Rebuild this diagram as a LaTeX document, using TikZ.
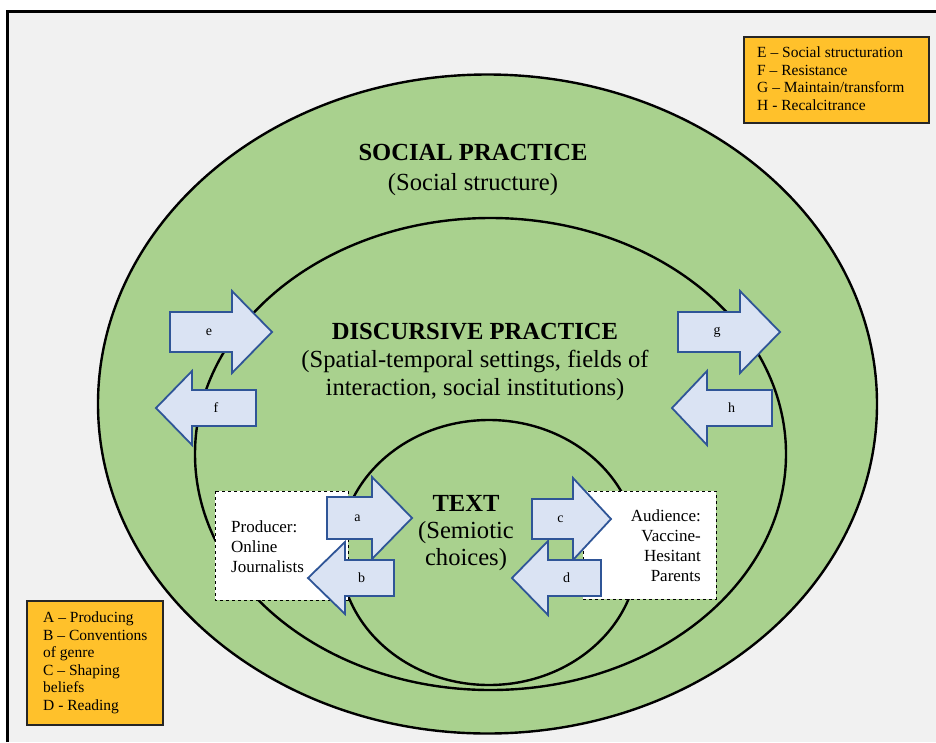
\documentclass[tikz,border=0pt]{standalone}
\usepackage{fontspec}
\setmainfont{Liberation Serif}
\definecolor{bggray}{HTML}{F1F1F1}
\definecolor{ringgreen}{HTML}{A9D18E}
\definecolor{arrfill}{HTML}{DAE3F3}
\definecolor{arrline}{HTML}{2F5597}
\definecolor{legfill}{HTML}{FFC12B}
\newcommand\RArrowShape[8]{%
  \draw[blockarr] (#1,{#4-#5}) -- (#2,{#4-#5}) -- (#2,{#4-#6}) -- (#3,#4) -- (#2,{#4+#6}) -- (#2,{#4+#5}) -- (#1,{#4+#5}) -- cycle;
  \node[arrlabel] (#8) at ({(#1+#2)/2+8},#4) {#7};}
\newcommand\LArrowShape[8]{%
  \draw[blockarr] (#1,#4) -- (#2,{#4-#6}) -- (#2,{#4-#5}) -- (#3,{#4-#5}) -- (#3,{#4+#5}) -- (#2,{#4+#5}) -- (#2,{#4+#6}) -- cycle;
  \node[arrlabel] (#8) at ({(#2+#3)/2-8},#4) {#7};}
\tikzset{
  ring/.style={draw=black, line width=2.4pt, fill=ringgreen},
  blockarr/.style={draw=arrline, line width=1.8pt, fill=arrfill, line join=miter},
  arrlabel/.style={font=\fontsize{14}{16}\selectfont, inner sep=0pt},
  legend/.style={draw=black!85, line width=1.3pt, fill=legfill},
  legtext/.style={font=\fontsize{15.5}{17.5}\selectfont, align=left, inner sep=0pt, anchor=north west},
  actorbox/.style={draw=black, dashed, line width=0.8pt, fill=white},
  actortext/.style={font=\fontsize{17}{20}\selectfont, inner sep=0pt},
  headtext/.style={font=\fontsize{24.6}{30}\selectfont, align=center, inner sep=0pt}
}
\begin{document}
\begin{tikzpicture}[x=1pt,y=-1pt]
\useasboundingbox (0,0) rectangle (936,742);
\fill[white] (0,0) rectangle (936,742);
\fill[bggray] (7,11) rectangle (936,742);
\draw[black, line width=3pt] (7,742) -- (7,11) -- (936,11);

% rings
\draw[ring] (487.5,404) ellipse [x radius=389.5, y radius=329.5];
\draw[ring] (490.5,454) ellipse [x radius=295.5, y radius=236];
\draw[ring] (489,552.5) ellipse [x radius=149, y radius=132.5];

% headings
\node[headtext] (social) at (473,170) {\textbf{SOCIAL PRACTICE}\\(Social structure)};
\node[headtext, font=\fontsize{24.6}{28}\selectfont] (discursive) at (475,362) {\textbf{DISCURSIVE PRACTICE}\\(Spatial-temporal settings, fields of\\interaction, social institutions)};
\node[headtext, font=\fontsize{24.6}{27}\selectfont] (text) at (466,533) {\textbf{TEXT}\\(Semiotic\\choices)};

% actor boxes
\draw[actorbox] (215,491) rectangle (348,600);
\node[actortext, align=left, anchor=west] (producer) at (231,547) {Producer:\\Online\\Journalists};
\draw[actorbox] (583,491) rectangle (716,599);
\node[actortext, align=right, anchor=east] (audience) at (701,546) {Audience:\\Vaccine-\\Hesitant\\Parents};

% block arrows
\RArrowShape{170}{232}{272}{332}{20}{41}{e}{le}
\LArrowShape{156}{192}{256}{408}{18}{37}{f}{lf}
\RArrowShape{678}{740}{780}{332}{20}{41}{g}{lg}
\LArrowShape{672}{707}{772}{408}{18}{37}{h}{lh}
\RArrowShape{327}{372}{412}{518}{21}{41}{a}{la}
\LArrowShape{308}{345}{394}{578}{18}{36}{b}{lb}
\RArrowShape{532}{573}{611}{519}{20}{41}{c}{lc}
\LArrowShape{512}{548}{601}{578}{18}{37}{d}{ld}

% legends
\draw[legend] (744,37) rectangle (929,123);
\node[legtext] (legEH) at (757,47) {E – Social structuration\\F – Resistance\\G – Maintain/transform\\H - Recalcitrance};
\draw[legend] (27,601) rectangle (163,725);
\node[legtext] (legAD) at (43,612) {A – Producing\\B – Conventions\\of genre\\C – Shaping\\beliefs\\D - Reading};
\end{tikzpicture}
\end{document}
